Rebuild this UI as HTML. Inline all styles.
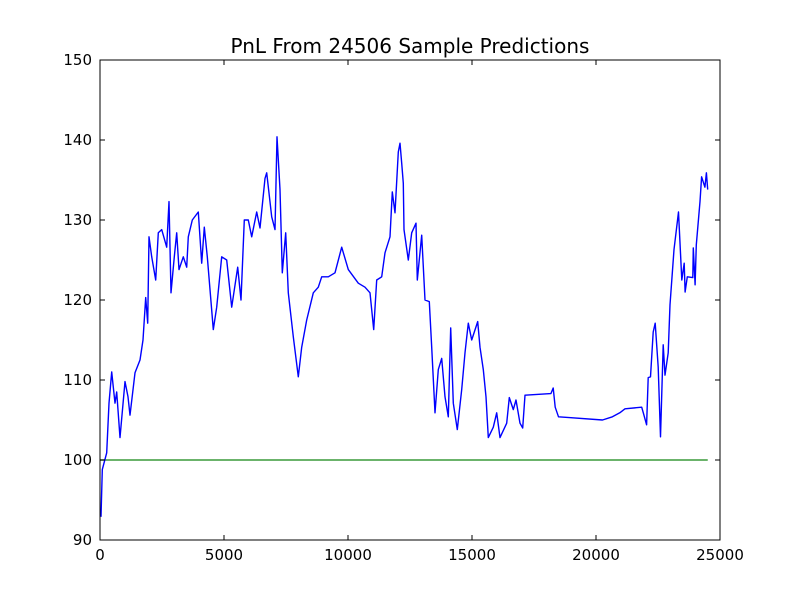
<!DOCTYPE html>
<html><head><meta charset="utf-8"><style>
html,body{margin:0;padding:0;background:#fff;}
svg{display:block;font-family:"DejaVu Sans","Liberation Sans",sans-serif;}
</style></head><body>
<svg id="chart" width="800" height="600" viewBox="0 0 800 600">
<rect x="0" y="0" width="800" height="600" fill="#fff"/>
<text x="410" y="53" text-anchor="middle" font-size="20" fill="#000">PnL From 24506 Sample Predictions</text>
<g id="plot"></g>
</svg>
<script>
const xTicks=[0,5000,10000,15000,20000,25000];
const yTicks=[90,100,110,120,130,140,150];
const xSamples=[40,93,270,363,472,605,673,806,1008,1129,1210,1411,1613,1734,1843,1923,1976,2085,2246,2351,2488,2689,2782,2863,2996,3093,3185,3359,3496,3560,3722,3963,4101,4205,4326,4568,4705,4907,5109,5310,5552,5685,5818,5980,6117,6318,6451,6653,6721,6923,7056,7137,7258,7350,7487,7592,7794,7995,8133,8334,8600,8802,8939,9205,9475,9745,10012,10415,10685,10886,11036,11157,11358,11491,11693,11786,11894,12027,12096,12165,12229,12257,12431,12568,12741,12794,12971,13104,13277,13374,13507,13640,13777,13910,14044,14140,14245,14406,14584,14717,14850,14987,15229,15322,15455,15564,15656,15858,15995,16128,16398,16503,16664,16773,16934,17043,17136,18181,18273,18354,18487,18918,20261,20661,20960,21168,21842,21906,22039,22103,22199,22308,22388,22508,22599,22708,22781,22910,22982,23144,23326,23460,23555,23594,23683,23902,23923,23995,24044,24192,24258,24393,24451,24506];
const pnlValues=[92.9,98.8,100.9,107.1,111,107.1,108.5,102.8,109.8,107.9,105.6,110.9,112.5,115,120.3,117.1,127.9,125.4,122.5,128.4,128.8,126.6,132.3,120.9,125.4,128.4,123.8,125.4,124.1,127.9,130,131,124.6,129.1,125.4,116.3,119.1,125.4,125,119.1,124.1,120,130,130,127.9,131,129,135.2,135.9,130.4,128.8,140.4,133.8,123.4,128.4,120.9,115.4,110.4,114.1,117.5,120.9,121.6,122.9,122.9,123.4,126.6,123.8,122.1,121.6,120.9,116.3,122.5,122.9,125.9,127.9,133.5,130.9,138.5,139.6,137.1,134.6,128.8,125,128.4,129.6,122.5,128.1,120,119.8,114.1,105.9,111.3,112.7,107.9,105.4,116.5,107.1,103.8,108.8,113.4,117.1,115,117.3,114.1,111.3,107.9,102.8,104.1,105.9,102.8,104.6,107.8,106.3,107.5,104.6,104,108.1,108.3,109,106.6,105.4,105.3,105,105.4,105.9,106.4,106.6,105.9,104.4,110.3,110.4,116,117.1,111.6,102.9,114.4,110.6,113.4,119.4,126.3,131,122.5,124.6,121,122.9,122.8,126.5,121.9,126.9,132.3,135.4,134.1,135.9,133.8];
const baselineX=[0,24506];
const baselineY=[100,100];

const L=100,R=720,T=60,B=540;
const sx=v=>L+(v-0)/(25000-0)*(R-L);
const sy=v=>B-(v-90)/(150-90)*(B-T);
const NS='http://www.w3.org/2000/svg';
const plot=document.getElementById('plot');
function mk(tag,attrs){const e=document.createElementNS(NS,tag);for(const k in attrs)e.setAttribute(k,attrs[k]);return e;}

const green=mk('polyline',{points:baselineX.map((x,i)=>sx(x)+','+sy(baselineY[i])).join(' '),fill:'none',stroke:'#3a9a3a','stroke-width':1.6});


plot.appendChild(green);

const blue=mk('polyline',{points:xSamples.map((x,i)=>sx(x).toFixed(1)+','+sy(pnlValues[i]).toFixed(1)).join(' '),fill:'none',stroke:'#0000ff','stroke-width':1.4,'stroke-linejoin':'round'});


plot.appendChild(blue);

const frame=mk('rect',{x:L,y:T,width:R-L,height:B-T,fill:'none',stroke:'#000','stroke-width':1});


plot.appendChild(frame);

xTicks.forEach(v=>{
  const x=sx(v);
  const t1=mk('line',{x1:x,y1:B,x2:x,y2:B-5,stroke:'#000'});
  
  
  plot.appendChild(t1);
  const t2=mk('line',{x1:x,y1:T,x2:x,y2:T+5,stroke:'#000'});
  
  
  plot.appendChild(t2);
  const lb=mk('text',{x:x,y:B+20,'text-anchor':'middle','font-size':15,fill:'#000'});
  lb.textContent=v;
  
  
  plot.appendChild(lb);
});
yTicks.forEach(v=>{
  const y=sy(v);
  const t1=mk('line',{x1:L,y1:y,x2:L+5,y2:y,stroke:'#000'});
  
  
  plot.appendChild(t1);
  const t2=mk('line',{x1:R,y1:y,x2:R-5,y2:y,stroke:'#000'});
  
  
  plot.appendChild(t2);
  const lb=mk('text',{x:L-8,y:y+5,'text-anchor':'end','font-size':15,fill:'#000'});
  lb.textContent=v;
  
  
  plot.appendChild(lb);
});
</script>
</body></html>
